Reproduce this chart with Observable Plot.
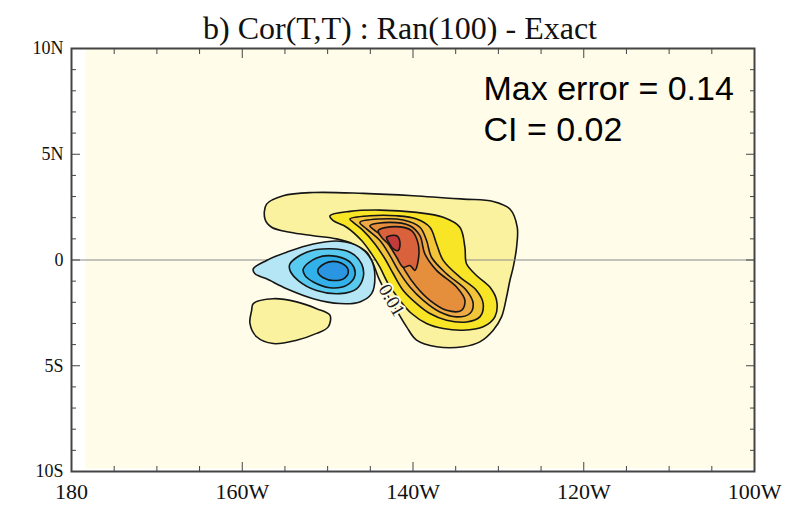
<!DOCTYPE html>
<html><head><meta charset="utf-8">
<script src="https://cdn.jsdelivr.net/npm/d3@7"></script>
<script src="https://cdn.jsdelivr.net/npm/@observablehq/plot@0.6"></script>
<style>body{margin:0;background:#fff;} #chart{width:800px;height:513px;}</style>
</head><body><div id="chart"></div>
<script>
// ---- Data ----
const title = "b) Cor(T,T) : Ran(100) - Exact";
const notes = ["Max error = 0.14", "CI = 0.02"];
const lonTicks = [180, 200, 220, 240, 260];
const lonLabels = ["180", "160W", "140W", "120W", "100W"];
const latTicks = [-10, -5, 0, 5, 10];
const latLabels = ["10S", "5S", "0", "5N", "10N"];
const contourLabel = [{lon: 217.5, lat: -1.9, text: "0.01"}];

// contour regions as [lon (deg E), lat] outlines
const pos1 = [[202.85,2.64],[204.80,3.04],[208.32,3.19],[214.17,3.15],[220.03,3.04],[225.88,2.88],[229.40,2.77],[231.35,2.41],[232.21,1.55],[232.13,0.60],[231.74,-0.34],[231.35,-0.97],[230.96,-1.75],[230.37,-2.69],[229.40,-3.32],[227.83,-3.87],[225.88,-4.10],[222.76,-4.10],[220.42,-3.79],[219.25,-3.16],[218.08,-2.38],[216.91,-1.59],[215.93,-0.81],[215.34,-0.18],[214.56,0.37],[213.00,0.76],[211.05,1.00],[208.32,1.15],[205.59,1.31],[203.44,1.55],[202.66,1.94]];
const pos1b = [[201.29,-2.06],[203.63,-1.83],[206.37,-1.98],[208.71,-2.30],[210.27,-2.61],[210.07,-3.16],[208.71,-3.47],[206.37,-3.79],[203.63,-3.95],[201.68,-3.63],[200.90,-3.00],[201.10,-2.38]];
const pos2 = [[210.27,2.09],[212.61,2.30],[216.12,2.36],[220.42,2.25],[223.54,2.02],[225.49,1.55],[226.08,0.60],[226.27,-0.18],[227.44,-0.73],[229.00,-1.28],[229.79,-1.91],[229.59,-2.69],[228.22,-3.16],[225.88,-3.32],[223.54,-3.24],[221.59,-3.00],[219.83,-2.53],[218.47,-1.91],[217.10,-1.12],[216.12,-0.34],[215.15,0.29],[213.98,0.92],[212.22,1.55],[210.66,1.86]];
const pos3 = [[212.61,1.94],[214.95,2.09],[218.08,2.09],[220.42,1.94],[221.98,1.55],[222.76,0.76],[223.54,-0.02],[225.49,-0.81],[227.44,-1.44],[228.22,-2.06],[227.83,-2.69],[226.27,-2.93],[223.93,-2.85],[221.98,-2.53],[220.42,-2.06],[218.86,-1.44],[217.69,-0.65],[216.71,0.06],[215.54,0.76],[214.17,1.39],[213.00,1.78]];
const pos4 = [[213.78,1.78],[216.12,1.94],[218.86,1.89],[220.81,1.55],[221.59,0.92],[222.17,0.13],[223.93,-0.65],[226.27,-1.44],[227.05,-2.06],[226.66,-2.53],[225.10,-2.69],[223.15,-2.46],[221.20,-1.91],[219.64,-1.28],[218.27,-0.49],[217.30,0.21],[216.12,0.92],[214.56,1.47]];
const pos5 = [[214.95,1.62],[217.30,1.78],[219.64,1.62],[220.81,1.15],[221.39,0.29],[222.76,-0.49],[225.10,-1.28],[226.08,-1.91],[225.69,-2.38],[223.93,-2.38],[221.98,-1.91],[220.42,-1.28],[219.05,-0.49],[218.08,0.29],[216.91,1.00],[215.54,1.39]];
const pos6 = [[215.93,1.39],[217.88,1.58],[219.83,1.39],[220.61,0.76],[220.61,-0.02],[220.22,-0.49],[219.64,-0.26],[218.86,-0.34],[218.08,0.13],[217.10,0.76],[216.32,1.07]];
const pos7 = [[216.91,1.07],[218.08,1.15],[218.47,0.84],[218.27,0.45],[217.69,0.53],[217.22,0.79]];
const neg1 = [[201.29,-0.42],[202.85,-0.02],[205.20,0.37],[208.32,0.76],[211.44,0.89],[213.78,0.60],[215.15,-0.02],[215.54,-0.81],[215.15,-1.59],[213.78,-1.98],[211.44,-2.06],[208.32,-1.83],[205.20,-1.36],[202.85,-0.89],[201.49,-0.65]];
const neg2 = [[205.59,-0.18],[207.54,0.37],[210.27,0.53],[212.61,0.37],[213.98,-0.18],[214.17,-0.81],[213.39,-1.36],[211.44,-1.59],[208.71,-1.44],[206.56,-0.97],[205.59,-0.49]];
const neg3 = [[207.15,-0.42],[208.71,0.10],[211.05,0.17],[212.81,-0.18],[213.20,-0.73],[212.22,-1.20],[210.27,-1.31],[208.32,-1.04],[207.34,-0.73]];
const neg4 = [[208.90,-0.42],[210.07,-0.10],[211.64,-0.15],[212.42,-0.49],[212.03,-0.84],[210.66,-0.97],[209.49,-0.84],[208.90,-0.62]];

const regions = [
  {level: 0.01, pts: pos1}, {level: 0.01, pts: pos1b},
  {level: 0.03, pts: pos2}, {level: 0.05, pts: pos3}, {level: 0.07, pts: pos4},
  {level: 0.09, pts: pos5}, {level: 0.11, pts: pos6}, {level: 0.13, pts: pos7},
  {level: -0.01, pts: neg1}, {level: -0.03, pts: neg2}, {level: -0.05, pts: neg3}, {level: -0.07, pts: neg4}
];

// ---- Styles ----
const levelColor = {
  "0.01": "#fbf2a0", "0.03": "#f7e526", "0.05": "#f2c43a", "0.07": "#eeaa45",
  "0.09": "#e58e3c", "0.11": "#d9623c", "0.13": "#c23a3a",
  "-0.01": "#b5e6f5", "-0.03": "#58c9ef", "-0.05": "#32b0ea", "-0.07": "#2a95e0"
};
const serif = "'Liberation Serif', 'DejaVu Serif', serif";
const sans = "'Liberation Sans', Arial, sans-serif";

const minorLon = d3.range(180, 261, 5).filter(d => !lonTicks.includes(d));
const minorLat = d3.range(-10, 11, 1).filter(d => !latTicks.includes(d));
const lonFmt = d => lonLabels[lonTicks.indexOf(d)];
const latFmt = d => latLabels[latTicks.indexOf(d)];
const blank = () => "";

const firstPale = regions.filter(r => r.level === 0.01);
const rest = regions.filter(r => r.level !== 0.01);
const regionMark = r => Plot.line(r.pts, {
  x: d => d[0], y: d => d[1], curve: "catmull-rom-closed",
  fill: levelColor[String(r.level)], stroke: "#161616", strokeWidth: 1.6
});

const tickAxes = [];
for (const anchor of ["bottom", "top"]) {
  tickAxes.push(Plot.axisX(lonTicks, {anchor, tickSize: -9, tickFormat: blank, label: null, stroke: "#444"}));
  tickAxes.push(Plot.axisX(minorLon, {anchor, tickSize: -5, tickFormat: blank, label: null, stroke: "#444"}));
}
for (const anchor of ["left", "right"]) {
  tickAxes.push(Plot.axisY(latTicks, {anchor, tickSize: -9, tickFormat: blank, label: null, stroke: "#444"}));
  tickAxes.push(Plot.axisY(minorLat, {anchor, tickSize: -5, tickFormat: blank, label: null, stroke: "#444"}));
}

const chart = Plot.plot({
  width: 800, height: 513,
  marginLeft: 71, marginRight: 46, marginTop: 48, marginBottom: 42,
  x: {domain: [180, 260]},
  y: {domain: [-10, 10]},
  style: {background: "#fff", overflow: "visible", color: "#222"},
  marks: [
    Plot.frame({fill: "#fffde9", stroke: null, insetLeft: 14, insetBottom: 3}),
    ...firstPale.map(regionMark),
    Plot.ruleY([0], {stroke: "#8a8a8a", strokeWidth: 1}),
    ...rest.map(regionMark),
    Plot.text(contourLabel, {x: "lon", y: "lat", text: "text", rotate: 60, fontFamily: serif, fontSize: 19,
      fill: "#222", stroke: "#fffde9", strokeWidth: 4}),
    Plot.frame({stroke: "#444", strokeWidth: 2}),
    ...tickAxes,
    Plot.axisX(lonTicks, {anchor: "bottom", tickSize: 0, tickPadding: 12, tickFormat: lonFmt, label: null,
      fontFamily: serif, fontSize: 22, fill: "#111"}),
    Plot.axisY(latTicks, {anchor: "left", tickSize: 0, tickPadding: 8, tickFormat: latFmt, label: null,
      fontFamily: serif, fontSize: 18, fill: "#111"}),
    Plot.text([title], {frameAnchor: "top", dx: -13, dy: -10, lineAnchor: "bottom", fontFamily: serif, fontSize: 32, fill: "#111"}),
    Plot.text([notes.join("\n")], {frameAnchor: "top-left", dx: 412, dy: 23, lineAnchor: "top", textAnchor: "start",
      lineHeight: 1.2, fontFamily: sans, fontSize: 34, fill: "#000"})
  ]
});
document.getElementById("chart").appendChild(chart);
</script>
</body></html>
